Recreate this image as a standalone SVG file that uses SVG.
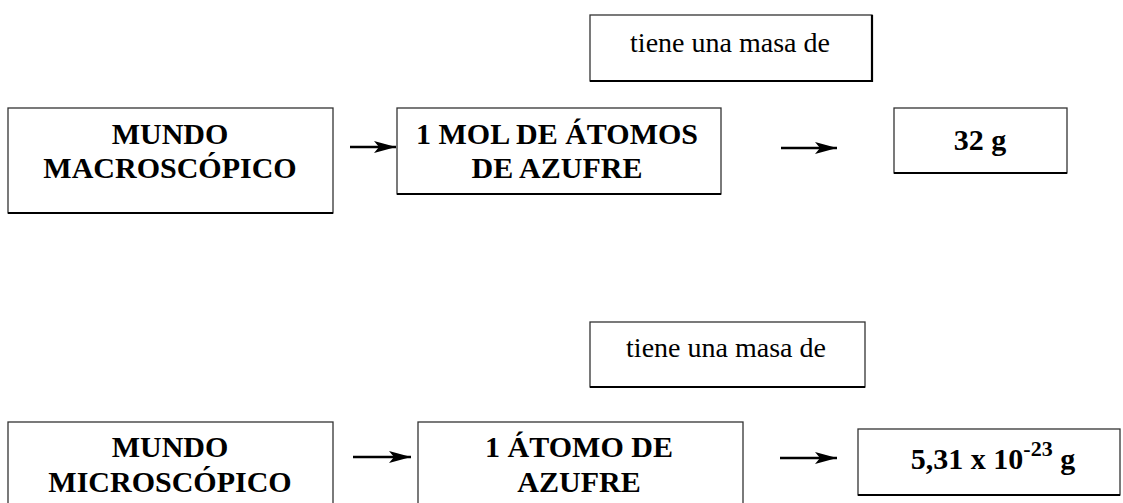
<svg xmlns="http://www.w3.org/2000/svg" width="1123" height="503" viewBox="0 0 1123 503">
<style>
.box{fill:#fff;stroke:#333;stroke-width:1.3}
.sh{fill:none;stroke:#000;stroke-width:2.2}
.b{font-family:"Liberation Serif","Times New Roman",serif;font-weight:bold;font-size:30px;fill:#000;text-anchor:middle}
.r{font-family:"Liberation Serif","Times New Roman",serif;font-size:28px;fill:#000;text-anchor:middle}
.conn{stroke:#000;stroke-width:2.6;fill:none;marker-end:url(#ah)}
</style>
<defs>
<marker id="ah" markerUnits="userSpaceOnUse" markerWidth="24" markerHeight="14" refX="22" refY="7" orient="auto">
<path d="M0,1 L22,7 L0,13 L5,7 Z" fill="#000"/>
</marker>
</defs>
<rect width="1123" height="503" fill="#fff"/>
<g id="connectors">
<line class="conn" x1="350" y1="147" x2="396" y2="147"/>
<line class="conn" x1="781" y1="148" x2="837" y2="148"/>
<line class="conn" x1="353" y1="457" x2="411" y2="457"/>
<line class="conn" x1="780" y1="458" x2="837" y2="458"/>
</g>
<g id="top-label">
<rect class="box" x="590" y="15" width="282" height="66"/>
<polyline class="sh" points="590,81 872,81 872,15"/>
<text class="r" x="730" y="52">tiene una masa de</text>
</g>
<g id="macro">
<rect class="box" x="8" y="108" width="325" height="105"/>
<polyline class="sh" points="8,213 333,213"/>
<text class="b" x="170" y="144">MUNDO</text>
<text class="b" x="170" y="178">MACROSCÓPICO</text>
</g>
<g id="mol">
<rect class="box" x="397" y="108" width="324" height="86"/>
<polyline class="sh" points="397,194 721,194"/>
<text class="b" x="557" y="144">1 MOL DE ÁTOMOS</text>
<text class="b" x="557" y="178">DE AZUFRE</text>
</g>
<g id="mass32">
<rect class="box" x="894" y="108" width="173" height="65"/>
<polyline class="sh" points="894,173 1067,173"/>
<text class="b" x="980" y="150" font-size="32">32 g</text>
</g>
<g id="bottom-label">
<rect class="box" x="590" y="322" width="275" height="65"/>
<polyline class="sh" points="590,387 865,387"/>
<text class="r" x="726" y="357">tiene una masa de</text>
</g>
<g id="micro">
<rect class="box" x="8" y="422" width="325" height="100"/>
<text class="b" x="170" y="457">MUNDO</text>
<text class="b" x="170" y="492">MICROSCÓPICO</text>
</g>
<g id="atomo">
<rect class="box" x="418" y="422" width="325" height="100"/>
<text class="b" x="579" y="457">1 ÁTOMO DE</text>
<text class="b" x="579" y="492">AZUFRE</text>
</g>
<g id="mass-atom">
<rect class="box" x="858" y="429" width="262" height="66"/>
<polyline class="sh" points="858,495 1120,495"/>
<text class="b" x="993" y="469" font-size="33">5,31 x 10<tspan font-size="22" dy="-13">-23</tspan><tspan dy="13"> g</tspan></text>
</g>
</svg>
